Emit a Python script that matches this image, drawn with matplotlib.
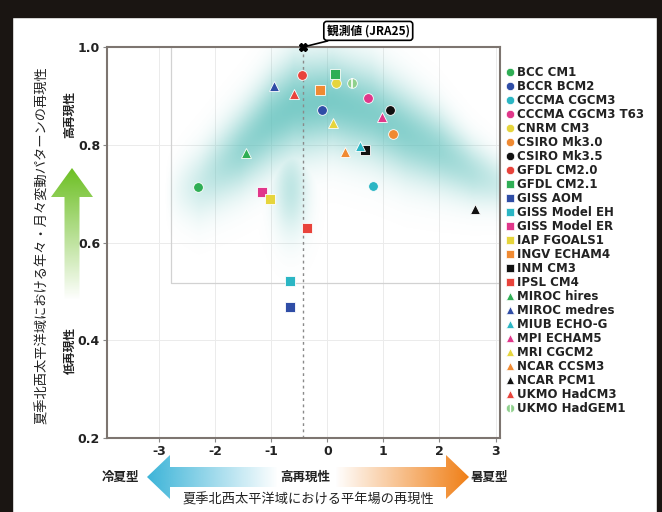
import numpy as np
import matplotlib
matplotlib.use("Agg")
import matplotlib.pyplot as plt
from matplotlib.patches import Polygon, Rectangle

plt.rcParams['font.family'] = ['DejaVu Sans', 'Noto Sans CJK JP']
JP = ['Noto Sans CJK JP', 'DejaVu Sans']

# model scores: x = climatology (cool/hot summer type), y = interannual/monthly pattern skill
models = ['BCC CM1', 'BCCR BCM2', 'CCCMA CGCM3', 'CCCMA CGCM3 T63', 'CNRM CM3',
          'CSIRO Mk3.0', 'CSIRO Mk3.5', 'GFDL CM2.0', 'GFDL CM2.1', 'GISS AOM',
          'GISS Model EH', 'GISS Model ER', 'IAP FGOALS1', 'INGV ECHAM4', 'INM CM3',
          'IPSL CM4', 'MIROC hires', 'MIROC medres', 'MIUB ECHO-G', 'MPI ECHAM5',
          'MRI CGCM2', 'NCAR CCSM3', 'NCAR PCM1', 'UKMO HadCM3', 'UKMO HadGEM1']
x_vals = [-2.30, -0.10, 0.82, 0.72, 0.16, 1.17, 1.12, -0.45, 0.14, -0.66,
          -0.66, -1.16, -1.02, -0.13, 0.68, -0.36, -1.45, -0.96, 0.59, 0.98,
          0.11, 0.32, 2.64, -0.60, 0.44]
y_vals = [0.713, 0.871, 0.716, 0.895, 0.926, 0.823, 0.871, 0.943, 0.945, 0.469,
          0.522, 0.703, 0.689, 0.912, 0.789, 0.629, 0.783, 0.920, 0.798, 0.857,
          0.845, 0.786, 0.668, 0.904, 0.926]
palette = ['#2fae55', '#2f4da6', '#2bb6c4', '#e0378a', '#e6d53c', '#f08a32', '#111111', '#e8433b']
model_colors = palette * 3 + ['#8fd08c']
model_markers = ['o'] * 8 + ['s'] * 8 + ['^'] * 8 + ['o']

obs_x, obs_y = -0.43, 1.0   # JRA25

# rough centre line of the teal shading
band_x = [-2.9, -2.3, -1.55, -1.0, -0.6, 0.1, 0.8, 1.4, 2.0, 2.6, 3.1]
band_c = [0.70, 0.72, 0.79, 0.85, 0.88, 0.89, 0.865, 0.825, 0.79, 0.745, 0.72]
band_w = [0.05, 0.07, 0.08, 0.09, 0.095, 0.09, 0.09, 0.085, 0.075, 0.06, 0.05]
band_a = [0.0, 0.35, 0.75, 0.9, 0.95, 0.95, 0.9, 0.85, 0.75, 0.55, 0.35]
# the tongue hanging down under the arch
tail_x, tail_y, tail_sx, tail_sy, tail_a = -0.65, 0.71, 0.3, 0.09, 0.45

W, H = 662, 512
fig = plt.figure(figsize=(W / 100, H / 100), dpi=100)
fig.patch.set_facecolor('white')

x0, x1 = -3.93, 3.08
ax = fig.add_axes([107 / W, 1 - 438 / H, (500 - 107) / W, (438 - 47) / H])
ax.set_xlim(x0, x1)
ax.set_ylim(0.2, 1.0)

# faint grid and reference box
for gx in range(-3, 4):
    ax.axvline(gx, color='#ebebeb', lw=0.7, zorder=0)
for gy in [0.4, 0.6, 0.8]:
    ax.axhline(gy, color='#ebebeb', lw=0.7, zorder=0)
ax.plot([-2.78, -2.78, x1], [1.0, 0.517, 0.517], color='#d2d2d2', lw=0.9, zorder=0.2)

# teal shading
gxs = np.linspace(x0, x1, 500)
gys = np.linspace(0.2, 1.0, 400)
GX, GY = np.meshgrid(gxs, gys)
cc = np.interp(GX, band_x, band_c)
ww = np.interp(GX, band_x, band_w)
aa = np.interp(GX, band_x, band_a)
dens = np.exp(-((GY - cc) / ww) ** 2) * aa
tail = tail_a * np.exp(-((GX - tail_x) / tail_sx) ** 2 - ((GY - tail_y) / tail_sy) ** 2)
dens = np.maximum(dens, tail)
img = np.zeros(GX.shape + (4,))
img[..., 0], img[..., 1], img[..., 2] = 0.36, 0.75, 0.73
img[..., 3] = dens * 0.85
ax.imshow(img, extent=(x0, x1, 0.2, 1.0), origin='lower', aspect='auto',
          interpolation='bilinear', zorder=0.5)

ax.axvline(obs_x, color='#8a8a8a', lw=1.0, ls=(0, (2, 2.5)), zorder=1)

for i in range(len(models)):
    ax.plot(x_vals[i], y_vals[i], marker=model_markers[i], color=model_colors[i],
            ms=7, mec='white', mew=0.6, ls='none', zorder=3)
ax.plot(x_vals[-1], y_vals[-1], marker='|', color='white', ms=7, mew=1.2, zorder=4)

ax.plot(obs_x, obs_y, marker='X', color='black', ms=6, zorder=5, clip_on=False)
ax.annotate('観測値 (JRA25)', xy=(obs_x, obs_y), xytext=(0.73, 1.033),
            fontsize=8.5, fontweight='bold', family=JP, ha='center', va='center',
            annotation_clip=False,
            bbox=dict(boxstyle='round,pad=0.25', fc='white', ec='black', lw=1.2),
            arrowprops=dict(arrowstyle='-', color='black', lw=1.2, shrinkA=0, shrinkB=2))

for s in ax.spines.values():
    s.set_color('#7d7570')
    s.set_linewidth(1.5)
ax.set_xticks(range(-3, 4))
ax.set_xticklabels(['-3', '-2', '-1', '0', '1', '2', '3'])
ax.set_yticks([0.2, 0.4, 0.6, 0.8, 1.0])
ax.set_yticklabels(['0.2', '0.4', '0.6', '0.8', '1.0'])
ax.tick_params(length=3, width=0.8, color='#888888', labelsize=9, labelcolor='#222222', pad=2)
for t in ax.get_xticklabels() + ax.get_yticklabels():
    t.set_fontweight('bold')

# overlay in pixel coords for legend, arrows, side labels and the black frame
ov = fig.add_axes([0, 0, 1, 1], zorder=5)
ov.set_xlim(0, W)
ov.set_ylim(H, 0)
ov.axis('off')

# legend column (drawn by hand so the row pitch matches the original)
leg_x, leg_y, leg_step = 510, 72, 14
for i, name in enumerate(models):
    yy = leg_y + leg_step * i
    ov.plot(leg_x, yy, marker=model_markers[i], color=model_colors[i], ms=6,
            mec='white', mew=0.5, ls='none')
    ov.text(leg_x + 7, yy, name, fontsize=8.5, fontweight='bold', family='DejaVu Sans',
            ha='left', va='center', color='#222222')
ov.plot(leg_x, leg_y + leg_step * (len(models) - 1), marker='|', color='white', ms=6, mew=1.0)


def grad_arrow(pts, rgb, a_start, a_end, vertical=False):
    poly = Polygon(pts, closed=True, fc='none', ec='none')
    ov.add_patch(poly)
    xs = [p[0] for p in pts]
    ys = [p[1] for p in pts]
    n = 256
    g = np.zeros((n, 1, 4)) if vertical else np.zeros((1, n, 4))
    rgb = matplotlib.colors.to_rgb(rgb)
    alpha = np.linspace(a_start, a_end, n)
    if vertical:
        g[:, 0, :3] = rgb
        g[:, 0, 3] = alpha
    else:
        g[0, :, :3] = rgb
        g[0, :, 3] = alpha
    im = ov.imshow(g, extent=(min(xs), max(xs), max(ys), min(ys)), aspect='auto',
                   interpolation='bilinear', origin='upper')
    im.set_clip_path(poly)


yc = 477
grad_arrow([(147, yc), (170, yc - 22), (170, yc - 10), (278, yc - 10), (278, yc + 10),
            (170, yc + 10), (170, yc + 22)], '#3cb4d8', 1.0, 0.0)
grad_arrow([(335, yc - 10), (446, yc - 10), (446, yc - 22), (469, yc), (446, yc + 22),
            (446, yc + 10), (335, yc + 10)], '#f07f16', 0.0, 1.0)
xc = 72
grad_arrow([(xc, 168), (xc + 21, 197), (xc + 7.5, 197), (xc + 7.5, 300), (xc - 7.5, 300),
            (xc - 7.5, 197), (xc - 21, 197)], '#6cbf22', 1.0, 0.0, vertical=True)
ov.set_xlim(0, W)
ov.set_ylim(H, 0)

ov.text(120, yc, '冷夏型', family=JP, fontsize=9, fontweight='bold', ha='center', va='center', color='#222222')
ov.text(305, yc, '高再現性', family=JP, fontsize=9, fontweight='bold', ha='center', va='center', color='#222222')
ov.text(490, yc, '暑夏型', family=JP, fontsize=9, fontweight='bold', ha='center', va='center', color='#222222')
ov.text(308, 500, '夏季北西太平洋域における平年場の再現性', family=JP, fontsize=9.5,
        ha='center', va='center', color='#222222')
ov.text(42, 245, '夏季北西太平洋域における年々・月々変動パターンの再現性', family=JP, fontsize=9.5,
        rotation=90, ha='center', va='center', color='#222222')
ov.text(70, 115, '高再現性', family=JP, fontsize=8.5, fontweight='bold', rotation=90,
        ha='center', va='center', color='#222222')
ov.text(70, 350, '低再現性', family=JP, fontsize=8.5, fontweight='bold', rotation=90,
        ha='center', va='center', color='#222222')

# black frame of the original scan
ov.add_patch(Rectangle((0, 0), 12, H, color='#1a1512', zorder=10))
ov.add_patch(Rectangle((0, 0), W, 17, color='#1a1512', zorder=10))
ov.add_patch(Rectangle((657, 0), 5, H, color='#1a1512', zorder=10))

fig.savefig('out.png', dpi=100)
